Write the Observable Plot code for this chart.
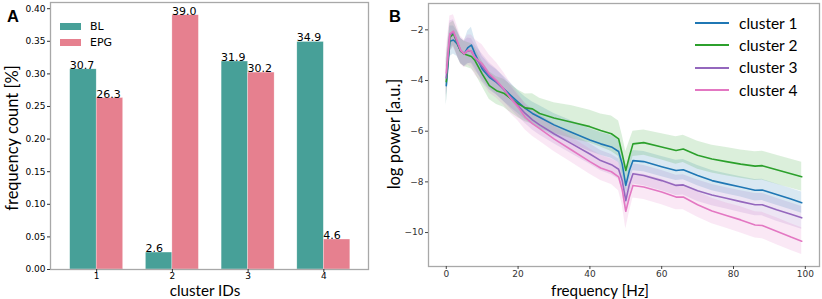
<!DOCTYPE html>
<html>
<head>
<meta charset="utf-8">
<script src="https://cdn.jsdelivr.net/npm/d3@7"></script>
<script src="https://cdn.jsdelivr.net/npm/@observablehq/plot@0.6"></script>
<style>
  body { margin: 0; background: #fff; }
  #root { position: relative; width: 822px; height: 299px; overflow: hidden; background: #fff; font-family: "DejaVu Sans", sans-serif; }
  .abs { position: absolute; white-space: nowrap; }
  .panel { position: absolute; top: 0; }
  .lbl { font-family: Lato, "Open Sans", sans-serif; font-size: 16.5px; color: #000; line-height: 1; }
  .xl { font-size: 15.2px; line-height: 1.2; transform: translateX(-50%); }
  .rot { transform: translate(-50%, -50%) rotate(-90deg); }
  .letter { font-family: "Liberation Sans", Arial, sans-serif; font-weight: bold; font-size: 16.5px; line-height: 1; }
</style>
</head>
<body>
<div id="root"></div>
<script>
// ---------- Panel A data ----------
const clusterIds = [1, 2, 3, 4];
const groups = ["BL", "EPG"];
const groupColors = ["#47a098", "#e6808f"];
const blFreq = [0.307, 0.026, 0.319, 0.349];
const epgFreq = [0.263, 0.390, 0.302, 0.046];
const yTicksA = [0, 0.05, 0.10, 0.15, 0.20, 0.25, 0.30, 0.35, 0.40];

// ---------- Panel B data ----------
const freqHz = [0,1,2,3,4,5,6,7,8,10,12,14,16,18,20,22,24,26,30,35,40,43,46,48,49,50,51,52,55,60,64,66,70,74,78,82,86,88,92,96,99];
const clusterNames = ["cluster 1", "cluster 2", "cluster 3", "cluster 4"];
const clusterColors = ["#1f77b4", "#2ca02c", "#9467bd", "#e377c2"];
const c1Mean = [-4.2,-2.45,-2.4,-2.55,-2.82,-2.95,-2.7,-2.6,-2.95,-3.54,-3.87,-4.07,-4.33,-4.59,-4.85,-5.1,-5.3,-5.45,-5.75,-6.05,-6.35,-6.5,-6.62,-6.8,-7.3,-8.14,-7.55,-7.16,-7.2,-7.4,-7.55,-7.52,-7.75,-7.95,-8.08,-8.2,-8.33,-8.32,-8.5,-8.68,-8.82];
const c2Mean = [-4.05,-2.3,-2.15,-2.5,-2.85,-2.95,-3.0,-3.05,-3.21,-3.74,-4.2,-4.4,-4.5,-4.72,-4.92,-5.08,-5.12,-5.3,-5.48,-5.65,-5.82,-5.97,-6.1,-6.3,-6.9,-7.55,-7.0,-6.5,-6.45,-6.62,-6.76,-6.7,-6.95,-7.1,-7.2,-7.3,-7.38,-7.36,-7.52,-7.68,-7.8];
const c3Mean = [-3.9,-2.2,-2.1,-2.48,-2.82,-2.95,-2.82,-2.85,-3.1,-3.45,-3.8,-4.05,-4.35,-4.68,-5.0,-5.3,-5.55,-5.75,-6.1,-6.5,-6.9,-7.16,-7.32,-7.5,-7.95,-8.74,-8.1,-7.68,-7.75,-7.95,-8.14,-8.12,-8.35,-8.52,-8.65,-8.78,-8.9,-8.9,-9.1,-9.28,-9.42];
const c4Mean = [-3.7,-2.15,-2.05,-2.42,-2.8,-2.95,-2.8,-2.85,-3.08,-3.34,-3.74,-4.0,-4.33,-4.72,-5.05,-5.45,-5.7,-5.9,-6.3,-6.75,-7.2,-7.45,-7.6,-7.8,-8.3,-9.16,-8.6,-8.14,-8.2,-8.4,-8.6,-8.6,-8.9,-9.15,-9.33,-9.5,-9.7,-9.72,-9.95,-10.18,-10.34];
const c1Sd = [0.8,0.6,0.55,0.5,0.5,0.5,0.65,0.7,0.55,0.5,0.5,0.5,0.5,0.48,0.45,0.45,0.45,0.45,0.45,0.45,0.45,0.45,0.45,0.45,0.48,0.5,0.45,0.4,0.4,0.4,0.4,0.4,0.4,0.4,0.4,0.4,0.42,0.42,0.42,0.42,0.42];
const c2Sd = [0.9,0.55,0.5,0.5,0.5,0.5,0.5,0.5,0.5,0.5,0.55,0.55,0.55,0.55,0.55,0.55,0.6,0.6,0.6,0.65,0.65,0.65,0.7,0.7,0.75,0.75,0.6,0.5,0.5,0.52,0.54,0.54,0.55,0.55,0.56,0.56,0.57,0.57,0.57,0.57,0.57];
const c3Sd = [0.8,0.55,0.5,0.5,0.5,0.5,0.5,0.5,0.5,0.5,0.5,0.5,0.48,0.45,0.42,0.4,0.4,0.4,0.4,0.4,0.4,0.4,0.4,0.4,0.45,0.5,0.45,0.4,0.4,0.4,0.4,0.4,0.42,0.42,0.42,0.43,0.44,0.44,0.45,0.45,0.45];
const c4Sd = [0.9,0.7,0.65,0.6,0.55,0.55,0.6,0.65,0.7,0.75,0.75,0.7,0.65,0.6,0.55,0.5,0.5,0.5,0.5,0.5,0.5,0.5,0.5,0.55,0.6,0.7,0.6,0.5,0.5,0.5,0.5,0.5,0.5,0.5,0.5,0.52,0.52,0.52,0.53,0.53,0.53];
const xTicksB = [0, 20, 40, 60, 80, 100];
const yTicksB = [-2, -4, -6, -8, -10];

const root = document.getElementById("root");
const minus = d => (d < 0 ? "\u2212" + Math.abs(d) : String(d));

// ---------- Panel A ----------
const barW = 0.35;
const bars = clusterIds.flatMap((id, i) => [
  {id, group: groups[0], v: blFreq[i]},
  {id, group: groups[1], v: epgFreq[i]}
]);
const x1 = d => d.group === groups[0] ? d.id - barW : d.id;
const x2 = d => d.group === groups[0] ? d.id : d.id + barW;

const plotA = Plot.plot({
  width: 390, height: 299,
  marginLeft: 50, marginRight: 22, marginTop: 2, marginBottom: 30,
  style: {fontFamily: "DejaVu Sans, sans-serif", background: "transparent", color: "#000"},
  x: {type: "linear", domain: [0.39, 4.59]},
  y: {domain: [0, 0.4095]},
  color: {domain: groups, range: groupColors},
  marks: [
    Plot.rect(bars, {x1, x2, y1: 0, y2: "v", fill: "group", inset: 0, stroke: "#fff", strokeWidth: 0.5, strokeOpacity: 0.6}),
    Plot.text(bars, {x: x1, y: "v", text: d => (d.v * 100).toFixed(1), textAnchor: "start", lineAnchor: "bottom", dy: -0.5, dx: -0.5, fontSize: 11, fill: "#000"}),
    Plot.frame({stroke: "#a8a8a8", strokeWidth: 1.3}),
    Plot.axisY({ticks: yTicksA, tickFormat: d => d.toFixed(2), tickSize: 3, tickPadding: 2, fontSize: 9, label: null, stroke: "#333"}),
    Plot.axisX({ticks: clusterIds, tickFormat: d => String(d), tickSize: 3, tickPadding: 0, fontSize: 9, label: null, stroke: "#333"})
  ]
});
plotA.classList.add("panel");
plotA.style.left = "0px";
root.appendChild(plotA);

// ---------- Panel B ----------
const means = [c1Mean, c2Mean, c3Mean, c4Mean];
const sds = [c1Sd, c2Sd, c3Sd, c4Sd];
const series = clusterNames.map((name, k) =>
  freqHz.map((f, i) => ({name, f, m: means[k][i], lo: means[k][i] - sds[k][i], hi: means[k][i] + sds[k][i]}))
);

const plotB = Plot.plot({
  width: 442, height: 299,
  marginLeft: 48, marginRight: 3, marginTop: 3, marginBottom: 33,
  style: {fontFamily: "DejaVu Sans, sans-serif", background: "transparent", color: "#333"},
  x: {domain: [-4.95, 103.95]},
  y: {domain: [-11.34, -0.96]},
  marks: [
    ...series.map((s, k) => Plot.areaY(s, {x: "f", y1: "lo", y2: "hi", fill: clusterColors[k], fillOpacity: 0.17})),
    ...series.map((s, k) => Plot.line(s, {x: "f", y: "m", stroke: clusterColors[k], strokeWidth: 1.6})),
    Plot.frame({stroke: "#a8a8a8", strokeWidth: 1.3}),
    Plot.axisY({ticks: yTicksB, tickFormat: minus, tickSize: 3, tickPadding: 2, fontSize: 9, label: null, stroke: "#444"}),
    Plot.axisX({ticks: xTicksB, tickFormat: minus, tickSize: 3, tickPadding: 1, fontSize: 9, label: null, stroke: "#444"})
  ]
});
plotB.classList.add("panel");
plotB.style.left = "380px";
root.appendChild(plotB);

// ---------- Text: axis titles, panel letters ----------
function addDiv(cls, text, left, top) {
  const d = document.createElement("div");
  d.className = "abs " + cls;
  d.textContent = text;
  d.style.left = left + "px";
  d.style.top = top + "px";
  root.appendChild(d);
  return d;
}
addDiv("letter", "A", 7, 8);
addDiv("letter", "B", 389, 8);
addDiv("lbl rot", "frequency count [%]", 12, 138);
addDiv("lbl xl", "cluster IDs", 205, 280.6);
addDiv("lbl rot", "log power [a.u.]", 394, 134);
addDiv("lbl xl", "frequency [Hz]", 600, 280.6);

// ---------- Legend A ----------
groups.forEach((g, i) => {
  const sw = document.createElement("div");
  sw.className = "abs";
  Object.assign(sw.style, {left: "60px", top: (22.5 + i * 16) + "px", width: "21px", height: "7px", background: groupColors[i]});
  root.appendChild(sw);
  const t = addDiv("", g, 90, 20 + i * 16);
  Object.assign(t.style, {fontSize: "11px", lineHeight: "13px", fontFamily: "DejaVu Sans, sans-serif"});
});

// ---------- Legend B ----------
clusterNames.forEach((n, i) => {
  const cy = 23 + i * 22.4;
  const ln = document.createElement("div");
  ln.className = "abs";
  Object.assign(ln.style, {left: "695px", top: (cy - 1) + "px", width: "34px", height: "2px", background: clusterColors[i]});
  root.appendChild(ln);
  const t = addDiv("lbl", n, 739, cy - 8.5);
  Object.assign(t.style, {fontSize: "15.5px", lineHeight: "17px"});
});
</script>
</body>
</html>
